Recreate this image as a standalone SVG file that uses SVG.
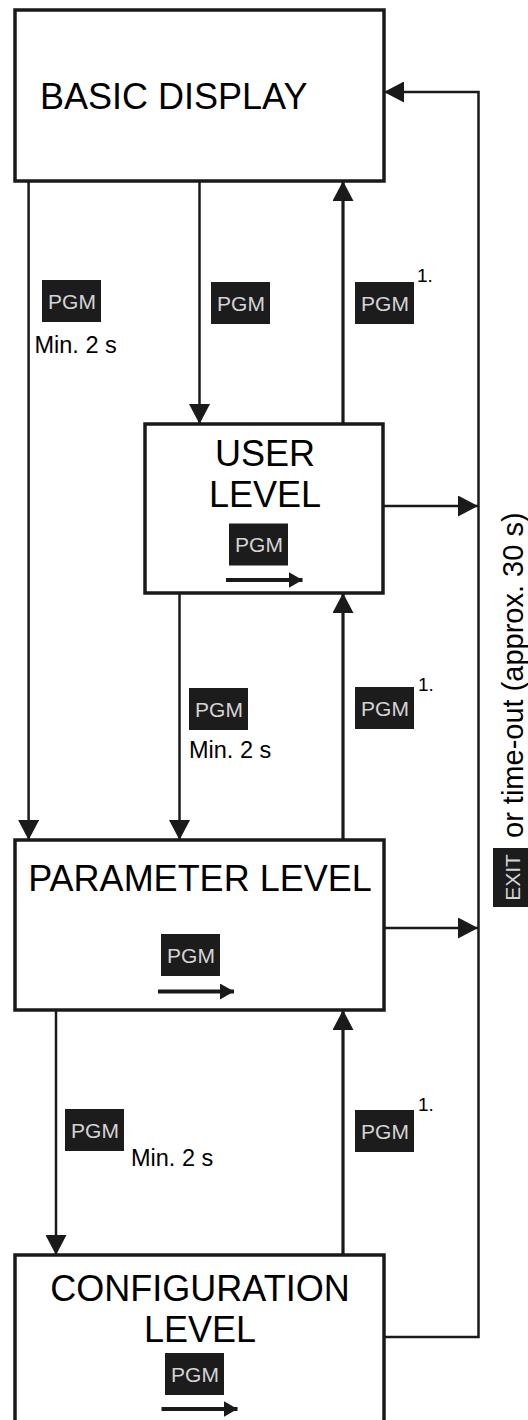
<svg xmlns="http://www.w3.org/2000/svg" width="528" height="1420" viewBox="0 0 528 1420">
<style>
.box{fill:#fff;stroke:#1a1a1a;stroke-width:3.5}
.t{font-family:"Liberation Sans",Arial,sans-serif;fill:#000}
.big{font-size:36px}
.mid{font-size:23.5px}
.sup{font-size:19px}
.badge{fill:#1c1c1c}
.bt{font-family:"Liberation Sans",Arial,sans-serif;font-size:21px;fill:#d4d4d4;text-anchor:middle}
.ln{fill:none;stroke:#1a1a1a;stroke-width:2.5}
.up{fill:none;stroke:#1a1a1a;stroke-width:3.2}
.ia{fill:none;stroke:#1a1a1a;stroke-width:4}
</style>
<defs>
<marker id="ah" markerUnits="userSpaceOnUse" markerWidth="21" markerHeight="21" refX="20" refY="10.5" orient="auto" viewBox="0 0 21 21">
<path d="M0,0 L20,10.5 L0,21 z" fill="#1a1a1a"/>
</marker>
<marker id="sa" markerUnits="userSpaceOnUse" markerWidth="15" markerHeight="16" refX="14" refY="8" orient="auto" viewBox="0 0 15 16">
<path d="M0,0 L14,8 L0,16 z" fill="#1a1a1a"/>
</marker>
</defs>

<g id="connectors">
<line class="ln" x1="28.6" y1="181" x2="28.6" y2="840" marker-end="url(#ah)"/>
<line class="ln" x1="199.5" y1="181" x2="199.5" y2="424" marker-end="url(#ah)"/>
<line class="up" x1="343" y1="424" x2="343" y2="181" marker-end="url(#ah)"/>
<line class="ln" x1="179.5" y1="593" x2="179.5" y2="840" marker-end="url(#ah)"/>
<line class="up" x1="343" y1="840" x2="343" y2="593" marker-end="url(#ah)"/>
<line class="ln" x1="56" y1="1010" x2="56" y2="1255" marker-end="url(#ah)"/>
<line class="up" x1="343" y1="1255" x2="343" y2="1010" marker-end="url(#ah)"/>
<line class="ln" x1="383" y1="506" x2="478" y2="506" marker-end="url(#ah)"/>
<line class="ln" x1="384" y1="928" x2="478" y2="928" marker-end="url(#ah)"/>
<polyline class="ln" points="384,1337 478.5,1337 478.5,92 384,92" marker-end="url(#ah)"/>
</g>

<g id="basic-display">
<rect class="box" x="15" y="10" width="369" height="171"/>
<text class="t big" x="40" y="109">BASIC DISPLAY</text>
</g>

<g id="user-level">
<rect class="box" x="145" y="424" width="238" height="169"/>
<text class="t big" x="265" y="466" text-anchor="middle">USER</text>
<text class="t big" x="265" y="507" text-anchor="middle">LEVEL</text>
<rect class="badge" x="229" y="523.5" width="59" height="42"/>
<text class="bt" x="259" y="552">PGM</text>
<line class="ia" x1="226" y1="580" x2="302.5" y2="580" marker-end="url(#sa)"/>
</g>

<g id="parameter-level">
<rect class="box" x="15" y="840" width="369" height="170"/>
<text class="t big" x="200" y="891" text-anchor="middle">PARAMETER LEVEL</text>
<rect class="badge" x="161" y="934" width="59" height="42"/>
<text class="bt" x="191" y="963">PGM</text>
<line class="ia" x1="158" y1="991.5" x2="234" y2="991.5" marker-end="url(#sa)"/>
</g>

<g id="configuration-level">
<rect class="box" x="15" y="1255" width="369" height="200"/>
<text class="t big" x="200" y="1301" text-anchor="middle">CONFIGURATION</text>
<text class="t big" x="200" y="1342" text-anchor="middle">LEVEL</text>
<rect class="badge" x="165" y="1353" width="59" height="42"/>
<text class="bt" x="195" y="1382">PGM</text>
<line class="ia" x1="161.5" y1="1409" x2="237.5" y2="1409" marker-end="url(#sa)"/>
</g>

<g id="labels">
<rect class="badge" x="42" y="280" width="59" height="42"/>
<text class="bt" x="72" y="309">PGM</text>
<text class="t mid" x="34.5" y="353">Min. 2 s</text>

<rect class="badge" x="211" y="282" width="59" height="42"/>
<text class="bt" x="241" y="311">PGM</text>

<rect class="badge" x="355" y="282" width="59" height="42"/>
<text class="bt" x="385" y="311">PGM</text>
<text class="t sup" x="417" y="282">1.</text>

<rect class="badge" x="189" y="688" width="59" height="42"/>
<text class="bt" x="219" y="717">PGM</text>
<text class="t mid" x="189" y="758">Min. 2 s</text>

<rect class="badge" x="355" y="687" width="59" height="42"/>
<text class="bt" x="385" y="716">PGM</text>
<text class="t sup" x="418" y="691">1.</text>

<rect class="badge" x="65" y="1109" width="59" height="42"/>
<text class="bt" x="95" y="1138">PGM</text>
<text class="t mid" x="131" y="1166">Min. 2 s</text>

<rect class="badge" x="355" y="1110" width="59" height="42"/>
<text class="bt" x="385" y="1139">PGM</text>
<text class="t sup" x="418" y="1111">1.</text>

<rect class="badge" x="493" y="848" width="42" height="59"/>
<text class="bt" transform="translate(520,877.5) rotate(-90)">EXIT</text>
<text class="t" style="font-size:29px" transform="translate(522.5,838) rotate(-90)">or time-out (approx. 30 s)</text>
</g>
</svg>
